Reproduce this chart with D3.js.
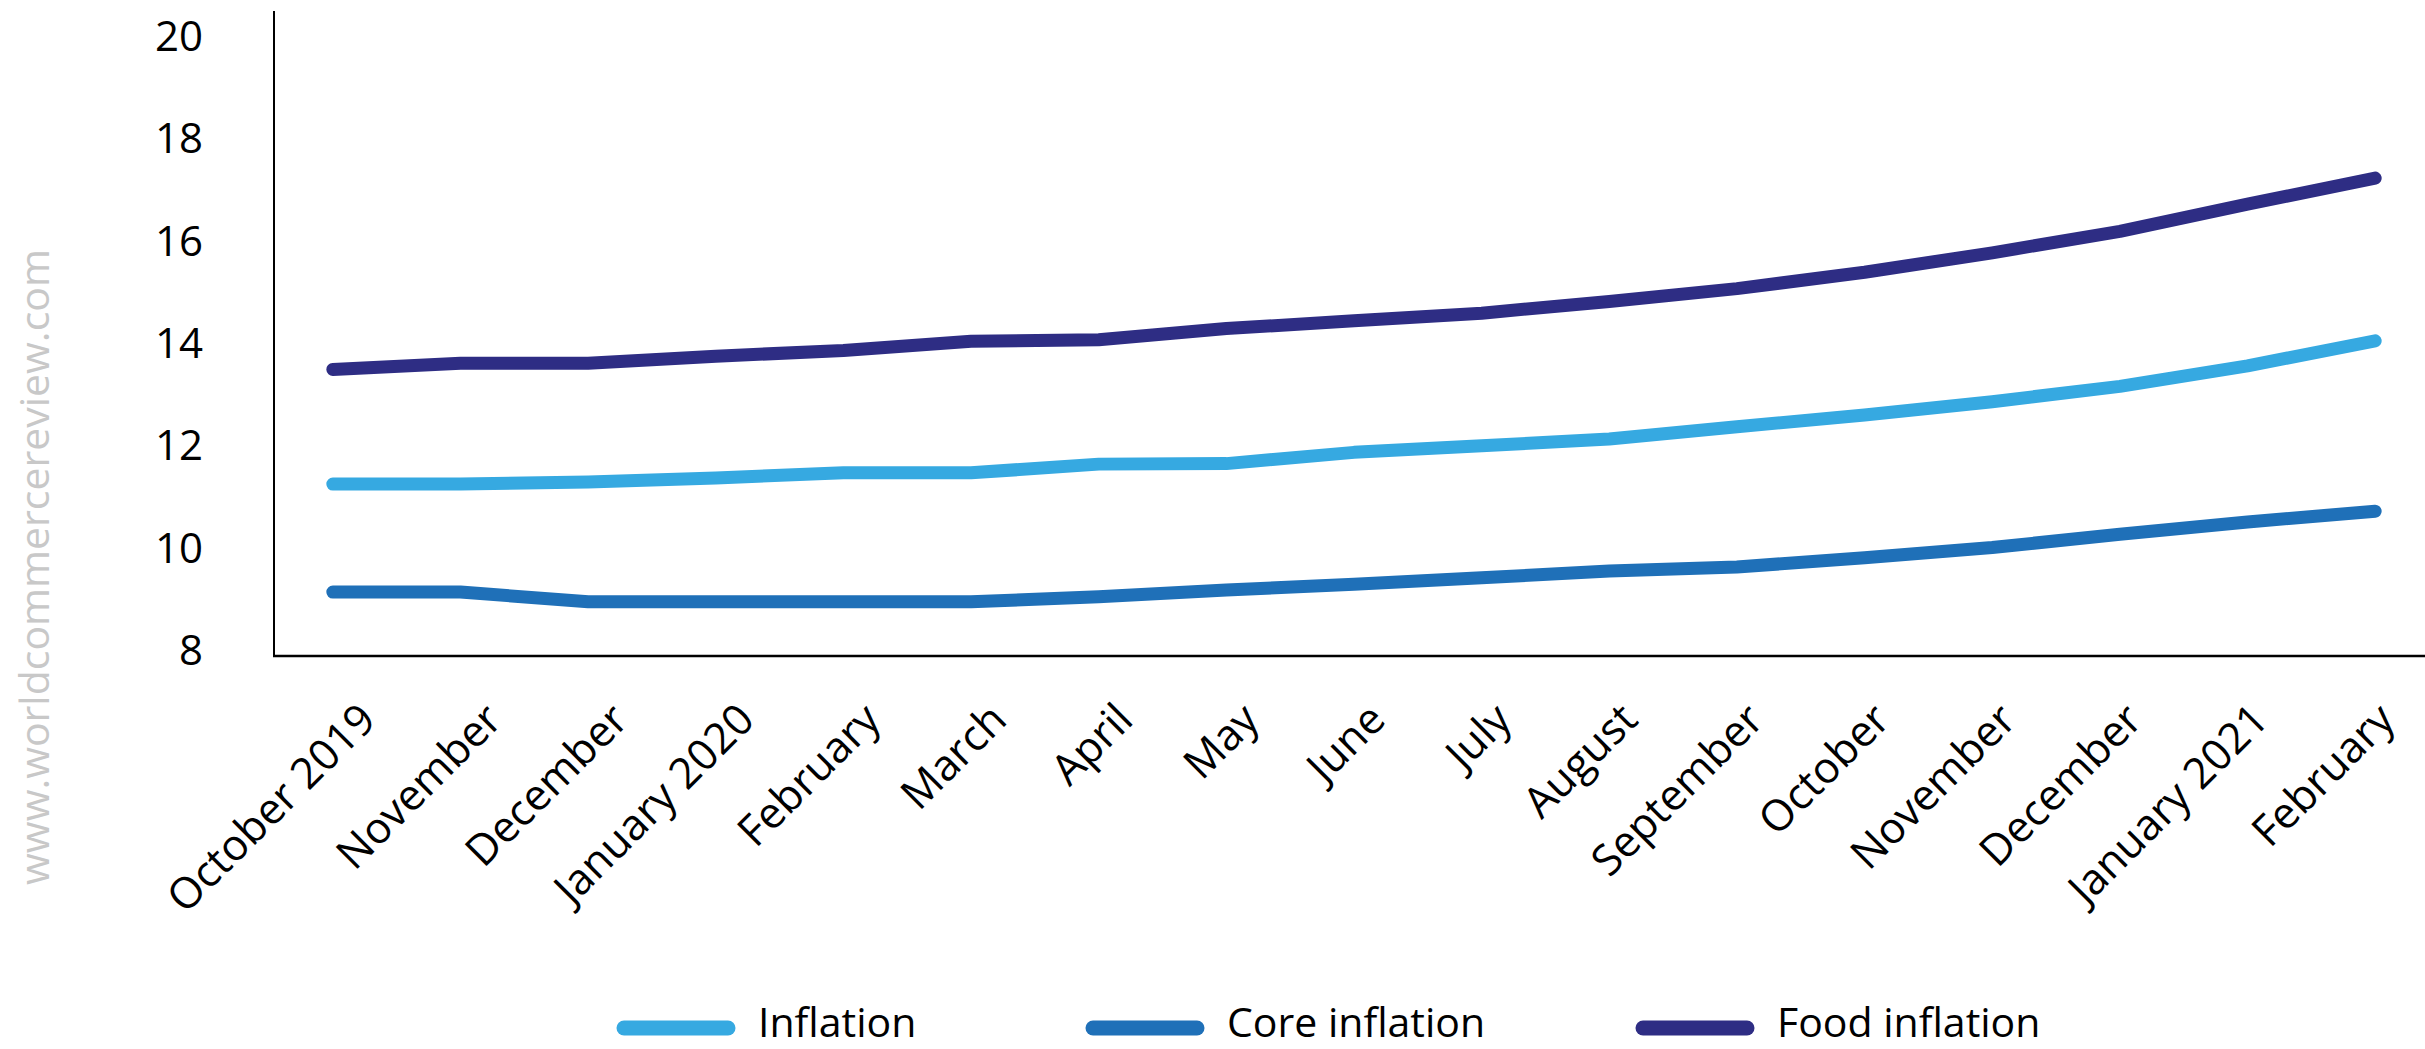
<!DOCTYPE html>
<html>
<head>
<meta charset="utf-8">
<script src="https://cdn.jsdelivr.net/npm/d3@7"></script>
<style>
  html, body { margin: 0; padding: 0; background: #fff; }
  svg { display: block; }
  text { font-family: "Open Sans", "Noto Sans", sans-serif; }
</style>
</head>
<body>
<svg id="chart" width="2425" height="1049"></svg>
<script>
// Monthly series, October 2019 to February 2021 (per cent)
const months = ["October 2019", "November", "December", "January 2020", "February", "March",
  "April", "May", "June", "July", "August", "September", "October", "November", "December",
  "January 2021", "February"];

const inflation = [11.36, 11.36, 11.40, 11.48, 11.58, 11.58, 11.75, 11.76, 11.98, 12.11, 12.24,
  12.48, 12.71, 12.97, 13.27, 13.67, 14.16];
const coreInflation = [9.25, 9.25, 9.06, 9.06, 9.06, 9.06, 9.16, 9.29, 9.40, 9.53, 9.66,
  9.74, 9.92, 10.12, 10.38, 10.62, 10.83];
const foodInflation = [13.60, 13.72, 13.72, 13.86, 13.97, 14.15, 14.18, 14.40, 14.55, 14.70, 14.93,
  15.18, 15.50, 15.88, 16.30, 16.83, 17.34];

const yTicks = [8, 10, 12, 14, 16, 18, 20];

const seriesNames = ["Inflation", "Core inflation", "Food inflation"];
const seriesColors = ["#36a9e1", "#1f70b8", "#2e2d84"];
const seriesValues = [inflation, coreInflation, foodInflation];

const svg = d3.select("#chart");

const axisX0 = 274, axisY0 = 656;
const idx = d3.range(months.length);

// Data points and category labels sit on index-based scales
const x = d3.scalePoint().domain(idx).range([269, 2439]).padding(0.5);
const xLabel = d3.scaleBand().domain(idx).range([274, 2419]);
const y = d3.scaleLinear().domain([8, 20]).range([axisY0, 42]);

// Watermark
svg.append("text")
  .attr("transform", "translate(49,567) rotate(-90)")
  .attr("text-anchor", "middle")
  .attr("font-size", 41)
  .attr("fill", "#c8c8c8")
  .text("www.worldcommercereview.com");

// Axis lines
svg.append("line")
  .attr("x1", axisX0).attr("x2", axisX0)
  .attr("y1", 11).attr("y2", axisY0 + 1)
  .attr("stroke", "#000").attr("stroke-width", 2);
svg.append("line")
  .attr("x1", axisX0 - 1).attr("x2", 2425)
  .attr("y1", axisY0).attr("y2", axisY0)
  .attr("stroke", "#000").attr("stroke-width", 2.5);

// Y tick labels
svg.append("g").selectAll("text")
  .data(yTicks)
  .join("text")
  .attr("x", 203)
  .attr("y", d => y(d))
  .attr("dy", 9)
  .attr("text-anchor", "end")
  .attr("font-size", 42)
  .attr("fill", "#000")
  .text(d => d);

// X tick labels, rotated
svg.append("g").selectAll("text")
  .data(idx)
  .join("text")
  .attr("transform", i => `translate(${xLabel(i) + xLabel.bandwidth() / 2 + 41},${axisY0 + 66}) rotate(-45)`)
  .attr("text-anchor", "end")
  .attr("font-size", 43)
  .attr("fill", "#000")
  .text(i => months[i]);

// Series lines
const line = d3.line()
  .x((d, i) => x(i))
  .y(d => y(d));

svg.append("g").selectAll("path")
  .data(seriesValues)
  .join("path")
  .attr("d", d => line(d))
  .attr("fill", "none")
  .attr("stroke", (d, i) => seriesColors[i])
  .attr("stroke-width", 13)
  .attr("stroke-linecap", "round")
  .attr("stroke-linejoin", "round");

// Legend
const legendX = [624, 1093, 1643];
const legend = svg.append("g").selectAll("g")
  .data(seriesNames)
  .join("g")
  .attr("transform", (d, i) => `translate(${legendX[i]},1028)`);
legend.append("line")
  .attr("x1", 0).attr("x2", 104)
  .attr("y1", 0).attr("y2", 0)
  .attr("stroke", (d, i) => seriesColors[i])
  .attr("stroke-width", 15)
  .attr("stroke-linecap", "round");
legend.append("text")
  .attr("x", 134)
  .attr("y", 0)
  .attr("dy", 9)
  .attr("font-size", 41)
  .attr("fill", "#000")
  .text(d => d);
</script>
</body>
</html>
